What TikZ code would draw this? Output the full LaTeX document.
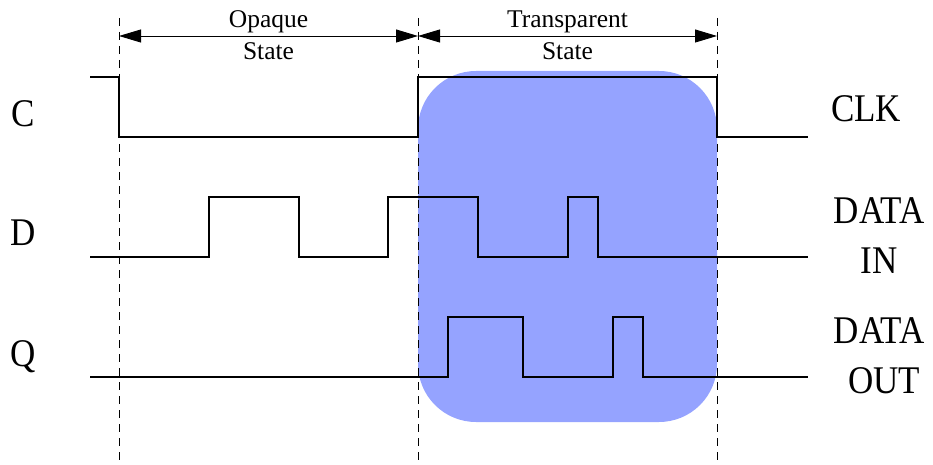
\documentclass[tikz,border=0pt]{standalone}
\usepackage{fontspec}
\setmainfont{Liberation Serif}
\usetikzlibrary{arrows.meta}
\definecolor{tblue}{RGB}{149,163,255}
\newcommand{\tallbig}[1]{\scalebox{1}[1.12]{#1}}
\begin{document}
\begin{tikzpicture}[x=1pt,y=-1pt,
  wave/.style={line width=2.6pt,line join=miter,line cap=butt},
  guide/.style={line width=0.9pt,dash pattern=on 8pt off 6pt},
  dim/.style={line width=0.9pt,{Triangle[length=22pt,width=13pt]}-{Triangle[length=22pt,width=13pt]}},
  biglbl/.style={font=\fontsize{35}{50}\selectfont,inner sep=0pt,anchor=base},
  smalllbl/.style={font=\fontsize{25.5}{32}\selectfont,inner sep=0pt,anchor=base}]
\useasboundingbox (0,0) rectangle (933,465);
% transparent-state highlight
\fill[tblue,rounded corners=58pt] (418,71) rectangle (717,422);
% guides
\coordinate (g1t) at (119,18); \coordinate (g1b) at (119,465);
\coordinate (g2t) at (418,18); \coordinate (g2b) at (418,465);
\coordinate (g3t) at (717,18); \coordinate (g3b) at (717,465);
\draw[guide] (g1t) -- (g1b);
\draw[guide] (g2t) -- (g2b);
\draw[guide] (g3t) -- (g3b);
% dimension arrows
\coordinate (a1) at (119,36); \coordinate (a2) at (418,36); \coordinate (a3) at (717,36);
\draw[dim] (a1) -- (a2);
\draw[dim] (a2) -- (a3);
\node[smalllbl] (op1) at (268.5,28) {Opaque};
\node[smalllbl] (op2) at (268.5,60) {State};
\node[smalllbl] (tr1) at (567.5,28) {Transparent};
\node[smalllbl] (tr2) at (567.5,60) {State};
% waveforms
\draw[wave] (90,77) -- (119,77) -- (119,137) -- (418,137) -- (418,77) -- (717,77) -- (717,137) -- (808,137);
\draw[wave] (90,257) -- (209,257) -- (209,197) -- (299,197) -- (299,257) -- (388,257) -- (388,197) -- (478,197) -- (478,257) -- (568,257) -- (568,197) -- (598,197) -- (598,257) -- (808,257);
\draw[wave] (90,377) -- (448,377) -- (448,317) -- (523,317) -- (523,377) -- (613,377) -- (613,317) -- (643,317) -- (643,377) -- (808,377);
% labels
\node[biglbl] (lc) at (23,127) {\tallbig{C}};
\node[biglbl] (ld) at (23,245) {\tallbig{D}};
\node[biglbl] (lq) at (23,366) {\tallbig{Q}};
\node[biglbl] (clk) at (866,122) {\tallbig{CLK}};
\node[biglbl] (din1) at (879,223) {\tallbig{DATA}};
\node[biglbl] (din2) at (879,273) {\tallbig{IN}};
\node[biglbl] (dout1) at (879,343) {\tallbig{DATA}};
\node[biglbl] (dout2) at (884,393) {\tallbig{OUT}};
\end{tikzpicture}
\end{document}
